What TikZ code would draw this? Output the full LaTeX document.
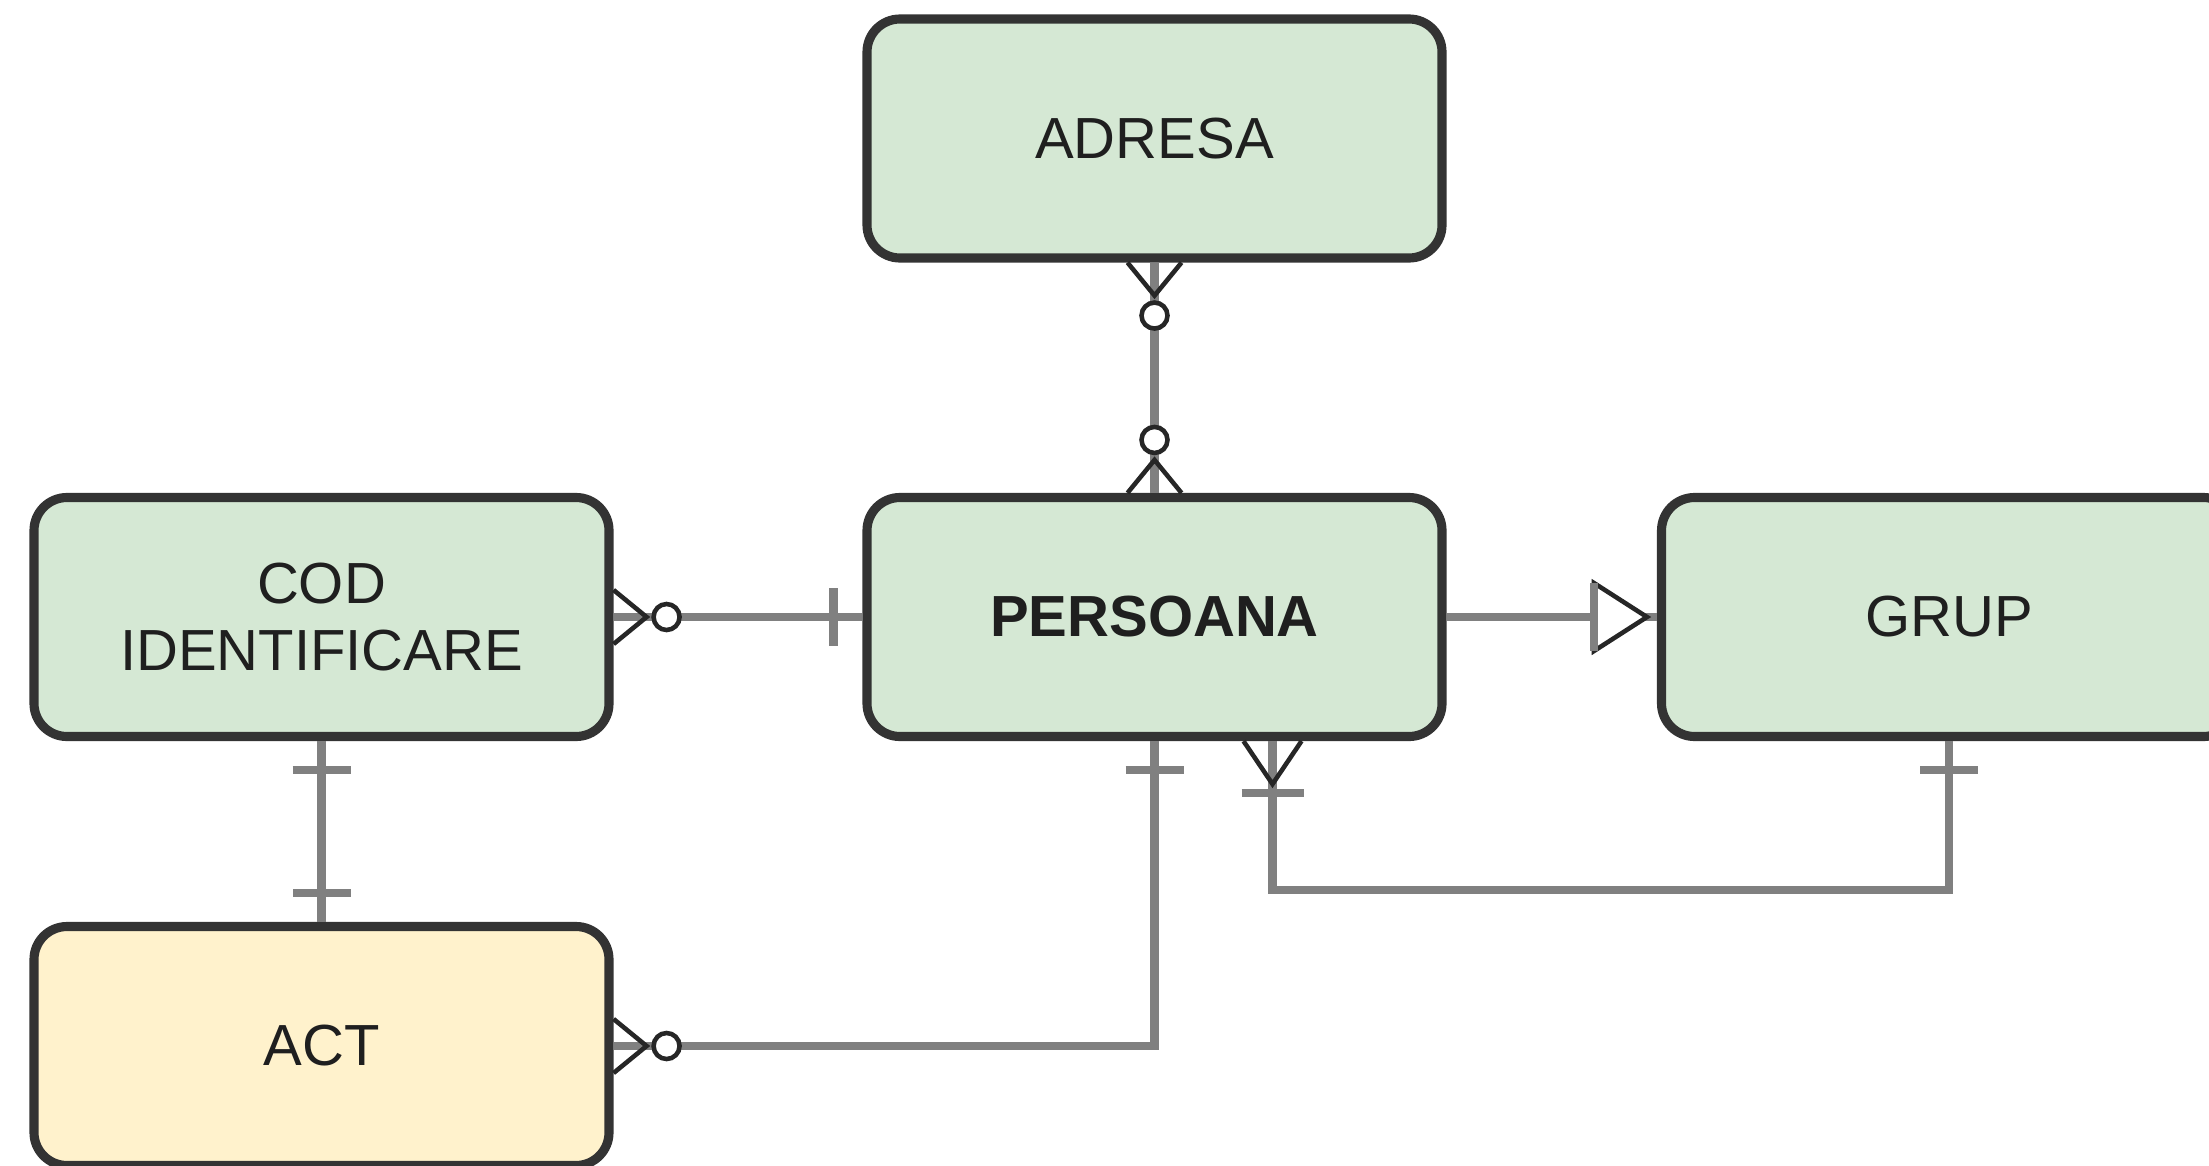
\documentclass[tikz,border=0pt]{standalone}
\usepackage{fontspec}
\setmainfont{Liberation Sans}
\definecolor{entgreen}{HTML}{D5E8D4}
\definecolor{entyellow}{HTML}{FFF2CC}
\definecolor{boxedge}{HTML}{333333}
\definecolor{linkgray}{HTML}{808080}
\tikzset{
    entity/.style={draw=boxedge, line width=2.6pt, rounded corners=0.33cm, fill=entgreen,
        minimum width=5.75cm, minimum height=2.39cm, align=center,
        font=\fontsize{16.5}{19}\selectfont, text=black!88},
    conn/.style={draw=linkgray, line width=2.5pt},
    crow/.style={draw=black!85, line width=1.3pt},
    zeromany/.pic={
        \draw[crow] (0,0.27)--(0.33,0)--(0,-0.27);
        \draw[crow,fill=white] (0.53,0) circle (0.13);
    },
    onebar/.pic={\draw[conn] (0.29,-0.29)--(0.29,0.29);},
    onemany/.pic={
        \draw[crow] (0,0.29)--(0.43,0)--(0,-0.29);
        \draw[conn] (0.52,-0.31)--(0.52,0.31);
    },
    isa/.pic={
        \draw[crow,fill=white] (0.63,0.34)--(0.1,0)--(0.63,-0.34)--cycle;
        \draw[conn] (0.63,-0.34)--(0.63,0.34);
    }
}
\begin{document}
\begin{tikzpicture}
            \useasboundingbox (0,0) rectangle (22.09,11.65);

            \node[entity] (adresa) at (11.545,10.265) {ADRESA};
            \node[entity] (persoana) at (11.545,5.48) {\bfseries PERSOANA};
            \node[entity] (cod) at (3.215,5.48) {COD\\IDENTIFICARE};
            \node[entity] (grup) at (19.49,5.48) {GRUP};
            \node[entity,fill=entyellow] (act) at (3.215,1.19) {ACT};

            \draw[conn] (adresa.south) -- (persoana.north);
            \draw[conn] (cod.east) -- (persoana.west);
            \draw[conn] (persoana.east) -- (grup.west);
            \draw[conn] (cod.south) -- (act.north);
            \draw[conn] (act.east) -| (persoana.south);
            \draw[conn] ([xshift=1.18cm]persoana.south) -- ++(0,-1.49) -| (grup.south);

            \pic[rotate=-90] at (adresa.south) {zeromany};
            \pic[rotate=90] at (persoana.north) {zeromany};
            \pic at (cod.east) {zeromany};
            \pic[rotate=180] at (persoana.west) {onebar};
            \pic[rotate=180] at (grup.west) {isa};
            \pic[rotate=-90] at (cod.south) {onebar};
            \pic[rotate=90] at (act.north) {onebar};
            \pic at (act.east) {zeromany};
            \pic[rotate=-90] at (persoana.south) {onebar};
            \pic[rotate=-90] at ([xshift=1.18cm]persoana.south) {onemany};
            \pic[rotate=-90] at (grup.south) {onebar};
\end{tikzpicture}
\end{document}
